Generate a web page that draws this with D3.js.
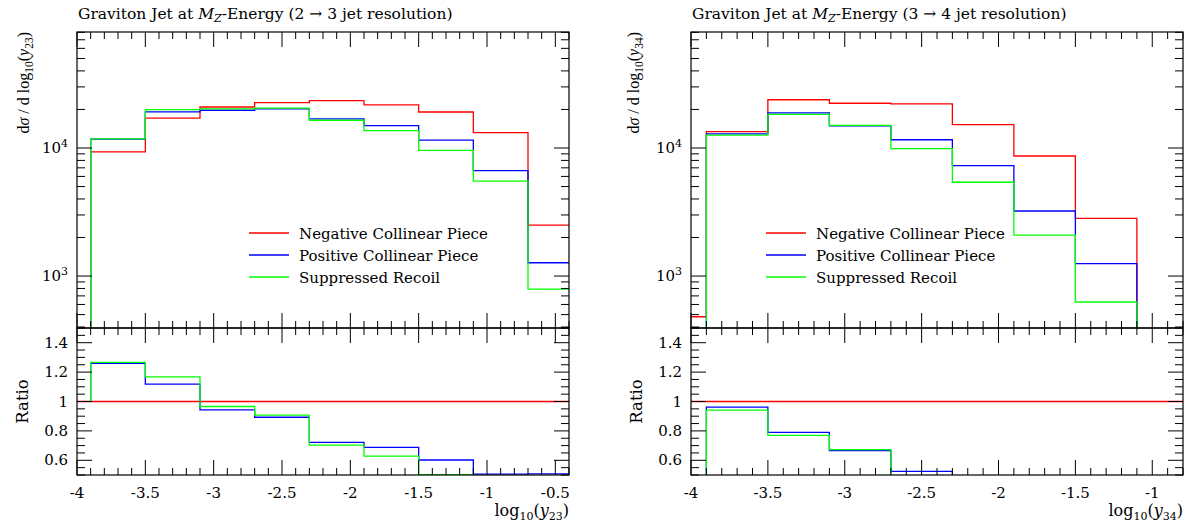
<!DOCTYPE html>
<html>
<head>
<meta charset="utf-8">
<script src="https://cdn.jsdelivr.net/npm/d3@7"></script>
<style>
  body { margin: 0; background: #fff; }
  svg { font-family: "DejaVu Serif", "Liberation Serif", serif; }
</style>
</head>
<body>
<div id="chart"></div>
<script>
// bin edges and values
var leftEdges = [-3.9, -3.5, -3.1, -2.7, -2.3, -1.9, -1.5, -1.1, -0.7, -0.3];
var leftNegative = [9310, 17100, 20900, 22600, 23400, 21700, 19100, 13170, 2500];
var leftPositive = [11730, 19120, 19710, 20180, 16900, 14930, 11500, 6660, 1270];
var leftRecoil = [11790, 19970, 20190, 20500, 16470, 13650, 9590, 5520, 790];

var rightEdges = [-4.3, -3.9, -3.5, -3.1, -2.7, -2.3, -1.9, -1.5, -1.1];
var rightNegative = [481, 13400, 23800, 22350, 22090, 15200, 8660, 2820];
var rightPositive = [0, 12880, 18800, 14900, 11600, 7280, 3220, 1250];
var rightRecoil = [0, 12610, 18330, 15020, 9880, 5400, 2090, 627];

var seriesNames = ["Negative Collinear Piece", "Positive Collinear Piece", "Suppressed Recoil"];
var seriesColors = ["#ff0000", "#0000ff", "#00ff00"];

var xMajorTicks = [-4, -3.5, -3, -2.5, -2, -1.5, -1, -0.5];
var ratioMajorTicks = [0.6, 0.8, 1, 1.2, 1.4];
var logMajorTicks = [1000, 10000];

var w = 1194, h = 525;
var mainTop = 32, mainBottom = 328, ratioBottom = 475;
var panelWidth = 492;

var panels = [
    {x0: 77, jets: "2 \u2192 3", sub: "23", edges: leftEdges,
     values: [leftNegative, leftPositive, leftRecoil], xmax: -0.4, legendX: 249, ylabX: 29},
    {x0: 691, jets: "3 \u2192 4", sub: "34", edges: rightEdges,
     values: [rightNegative, rightPositive, rightRecoil], xmax: -0.8, legendX: 766, ylabX: 639}
];

var svg = d3.select("#chart").append("svg").attr("width", w).attr("height", h);

panels.forEach(function (p, pi) {
    var x1 = p.x0 + panelWidth;
    var xScale = d3.scaleLinear().domain([-4, p.xmax]).range([p.x0, x1]);
    var yScale = d3.scaleLog().domain([393, 80500]).range([mainBottom, mainTop]);
    var rScale = d3.scaleLinear().domain([0.5, 1.5]).range([ratioBottom, mainBottom]);

    var g = svg.append("g");

    // clip paths
    svg.append("clipPath").attr("id", "clipMain" + pi).append("rect")
        .attr("x", p.x0).attr("y", mainTop).attr("width", panelWidth).attr("height", mainBottom - mainTop);
    svg.append("clipPath").attr("id", "clipRatio" + pi).append("rect")
        .attr("x", p.x0).attr("y", mainBottom).attr("width", panelWidth).attr("height", ratioBottom - mainBottom);

    // title
    var title = g.append("text").attr("x", p.x0 + 1).attr("y", 19).attr("font-size", "15.5px");
    title.append("tspan").text("Graviton Jet at ");
    title.append("tspan").attr("font-style", "italic").text("M");
    title.append("tspan").attr("font-style", "italic").attr("font-size", "11px").attr("dy", 3).text("Z");
    title.append("tspan").attr("dy", -3).text("-Energy (" + p.jets + " jet resolution)");

    // histograms
    function yv(v) {
        return v > 0 ? yScale(v) : mainBottom + 40;
    }
    var mainG = g.append("g").attr("clip-path", "url(#clipMain" + pi + ")");
    p.values.forEach(function (vals, si) {
        var path = d3.path();
        path.moveTo(xScale(p.edges[0]), mainBottom + 40);
        for (var i = 0; i < vals.length; i++) {
            path.lineTo(xScale(p.edges[i]), yv(vals[i]));
            path.lineTo(xScale(p.edges[i + 1]), yv(vals[i]));
        }
        path.lineTo(xScale(p.edges[vals.length]), mainBottom + 40);
        mainG.append("path").attr("d", path.toString()).attr("fill", "none")
            .attr("stroke", seriesColors[si]).attr("stroke-width", 1.3);
    });

    // ratio plot
    var ratioG = g.append("g").attr("clip-path", "url(#clipRatio" + pi + ")");
    ratioG.append("line").attr("x1", p.x0).attr("x2", x1)
        .attr("y1", rScale(1)).attr("y2", rScale(1))
        .attr("stroke", seriesColors[0]).attr("stroke-width", 1.3);
    var ref = p.values[0];
    [1, 2].forEach(function (si) {
        var vals = p.values[si];
        var path = d3.path();
        path.moveTo(xScale(p.edges[0]), rScale(1));
        for (var i = 0; i < vals.length; i++) {
            var r = ref[i] > 0 ? vals[i] / ref[i] : 1;
            var ry = Math.min(rScale(r), ratioBottom + 40);
            path.lineTo(xScale(p.edges[i]), ry);
            path.lineTo(xScale(p.edges[i + 1]), ry);
        }
        ratioG.append("path").attr("d", path.toString()).attr("fill", "none")
            .attr("stroke", seriesColors[si]).attr("stroke-width", 1.3);
    });

    // legend
    seriesNames.forEach(function (name, si) {
        var ly = 233 + si * 22;
        g.append("line").attr("x1", p.legendX).attr("x2", p.legendX + 40)
            .attr("y1", ly).attr("y2", ly).attr("stroke", seriesColors[si]).attr("stroke-width", 1.3);
        g.append("text").attr("x", p.legendX + 50).attr("y", ly + 5.5)
            .attr("font-size", "15px").text(name);
    });

    // frames
    g.append("rect").attr("x", p.x0).attr("y", mainTop).attr("width", panelWidth)
        .attr("height", mainBottom - mainTop).attr("fill", "none").attr("stroke", "#000").attr("stroke-width", 1.2);
    g.append("rect").attr("x", p.x0).attr("y", mainBottom).attr("width", panelWidth)
        .attr("height", ratioBottom - mainBottom).attr("fill", "none").attr("stroke", "#000").attr("stroke-width", 1.2);

    var ticks = g.append("g").attr("stroke", "#000").attr("stroke-width", 1);

    // x ticks, pointing inwards on every horizontal edge
    var xMinor = d3.range(-40, Math.floor(p.xmax * 10) + 1).map(function (d) { return d / 10; });
    var hEdges = [[mainTop, 1], [mainBottom, -1], [mainBottom, 1], [ratioBottom, -1]];
    xMinor.forEach(function (t) {
        var major = Math.abs(t * 2 - Math.round(t * 2)) < 1e-6;
        var len = major ? 15 : 7;
        hEdges.forEach(function (e) {
            ticks.append("line").attr("x1", xScale(t)).attr("x2", xScale(t))
                .attr("y1", e[0]).attr("y2", e[0] + e[1] * len);
        });
    });

    // log y ticks, main panel
    var logTicks = [];
    [100, 1000, 10000].forEach(function (dec) {
        for (var k = 1; k < 10; k++) logTicks.push(dec * k);
    });
    logTicks.filter(function (t) { return t >= 393 && t <= 80500; }).forEach(function (t) {
        var len = logMajorTicks.indexOf(t) >= 0 ? 15 : 8;
        ticks.append("line").attr("x1", p.x0).attr("x2", p.x0 + len)
            .attr("y1", yScale(t)).attr("y2", yScale(t));
        ticks.append("line").attr("x1", x1).attr("x2", x1 - len)
            .attr("y1", yScale(t)).attr("y2", yScale(t));
    });
    logMajorTicks.forEach(function (t) {
        var lab = g.append("text").attr("x", p.x0 - 9).attr("y", yScale(t) + 5)
            .attr("text-anchor", "end").attr("font-size", "15px");
        lab.append("tspan").text("10");
        lab.append("tspan").attr("font-size", "11px").attr("dy", -6).text(Math.round(Math.log10(t)));
    });

    // ratio y ticks
    d3.range(10, 31).map(function (d) { return d * 0.05; }).forEach(function (t) {
        var major = ratioMajorTicks.some(function (m) { return Math.abs(m - t) < 1e-6; });
        var len = major ? 15 : 8;
        ticks.append("line").attr("x1", p.x0).attr("x2", p.x0 + len)
            .attr("y1", rScale(t)).attr("y2", rScale(t));
        ticks.append("line").attr("x1", x1).attr("x2", x1 - len)
            .attr("y1", rScale(t)).attr("y2", rScale(t));
    });
    ratioMajorTicks.forEach(function (t) {
        g.append("text").attr("x", p.x0 - 9).attr("y", rScale(t) + 5)
            .attr("text-anchor", "end").attr("font-size", "15px").text(String(+t.toFixed(1)));
    });

    // x tick labels
    xMajorTicks.filter(function (t) { return t <= p.xmax + 1e-6; }).forEach(function (t) {
        g.append("text").attr("x", xScale(t)).attr("y", 498)
            .attr("text-anchor", "middle").attr("font-size", "15px").text(String(t));
    });

    // axis titles
    var xl = g.append("text").attr("x", x1).attr("y", 516).attr("text-anchor", "end").attr("font-size", "16px");
    xl.append("tspan").text("log");
    xl.append("tspan").attr("font-size", "11px").attr("dy", 4).text("10");
    xl.append("tspan").attr("dy", -4).text("(");
    xl.append("tspan").attr("font-style", "italic").text("y");
    xl.append("tspan").attr("font-size", "11px").attr("dy", 4).text(p.sub);
    xl.append("tspan").attr("dy", -4).text(")");

    var yl = g.append("text").attr("transform", "translate(" + p.ylabX + "," + mainTop + ") rotate(-90)")
        .attr("text-anchor", "end").attr("font-size", "16px")
        .attr("font-family", "'Liberation Serif', serif");
    yl.append("tspan").text("d");
    yl.append("tspan").attr("font-style", "italic").text("\u03c3");
    yl.append("tspan").text(" / d log");
    yl.append("tspan").attr("font-size", "11.5px").attr("dy", 4).text("10");
    yl.append("tspan").attr("dy", -4).text("(");
    yl.append("tspan").attr("font-style", "italic").text("y");
    yl.append("tspan").attr("font-size", "11.5px").attr("dy", 4).text(p.sub);
    yl.append("tspan").attr("dy", -4).text(")");

    g.append("text").attr("transform", "translate(" + (p.x0 - 49) + "," + rScale(1) + ") rotate(-90)")
        .attr("text-anchor", "middle").attr("font-size", "16.5px").text("Ratio");
});
</script>
</body>
</html>
